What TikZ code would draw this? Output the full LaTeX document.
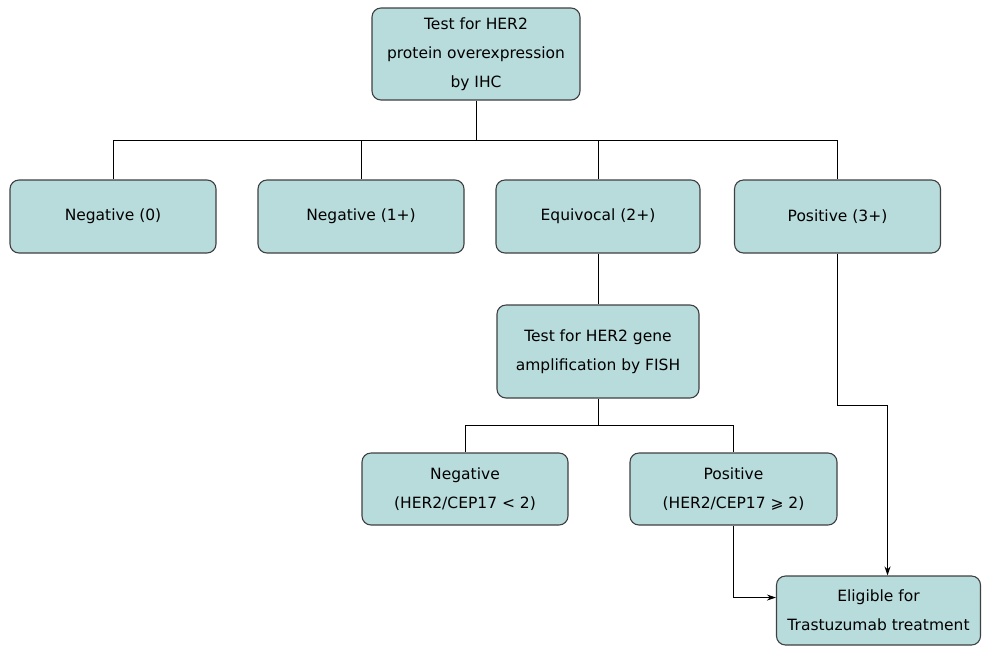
\documentclass[tikz,border=0pt]{standalone}
\usepackage{fontspec}
\setmainfont{DejaVu Sans}
\definecolor{BoxTeal}{HTML}{B8DBDC}
\definecolor{BoxEdge}{HTML}{404040}
\usepackage{tikz}
\usetikzlibrary{arrows.meta,positioning}

\begin{document}
\begin{tikzpicture}[x=1pt,y=-1pt,stage/.style={draw=BoxEdge,fill=BoxTeal,line width=1.1pt,rounded corners=9pt,align=center,minimum width=206pt,minimum height=73pt,font=\fontsize{15.5}{29}\selectfont},link/.style={draw=black,line width=1pt}]
      \useasboundingbox (0,0) rectangle (982,649);
      \node[stage,minimum width=208pt,minimum height=92pt] (ihc) at (476,54) {Test for HER2\\protein overexpression\\by IHC};
      \node[stage] (neg0) at (113,216.5) {Negative (0)};
      \node[stage] (neg1) at (361,216.5) {Negative (1+)};
      \node[stage,minimum width=204pt] (equiv) at (598,216.5) {Equivocal (2+)};
      \node[stage] (pos3) at (837.5,216.5) {Positive (3+)};
      \node[stage,minimum width=202pt,minimum height=93pt] (fish) at (598,351.5) {Test for HER2 gene\\amplification by FISH};
      \node[stage,minimum height=72pt] (fneg) at (465,489) {Negative\\(HER2/CEP17 < 2)};
      \node[stage,minimum height=72pt,minimum width=207pt] (fpos) at (733.5,489) {Positive\\(HER2/CEP17 ⩾ 2)};
      \node[stage,minimum height=69pt,minimum width=204pt] (elig) at (878.5,610.5) {Eligible for\\Trastuzumab treatment};
      \coordinate (ihcbus) at (476,140);
      \coordinate (fishbus) at (598,425);
      \coordinate (turn) at (837.5,405);
      \path[link] (ihc) -- (ihcbus);
      \foreach \x in {neg0,neg1,equiv,pos3}{\path[link] (ihcbus) -| (\x);}
      \path[link] (equiv) -- (fish);
      \path[link] (fish) -- (fishbus);
      \foreach \x in {fneg,fpos}{\path[link] (fishbus) -| (\x);}
      \path[link,-{Stealth[length=9pt,width=6pt]}] (pos3) -- (turn) -| ([xshift=9pt]elig.north);
      \path[link,-{Stealth[length=9pt,width=6pt]}] (fpos) |- ([yshift=13pt]elig.west);
    \end{tikzpicture}
\end{document}
